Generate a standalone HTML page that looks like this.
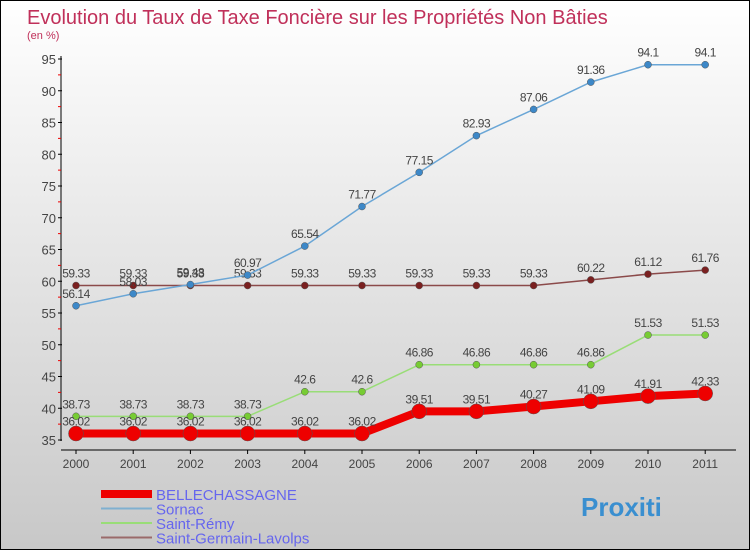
<!DOCTYPE html>
<html><head><meta charset="utf-8"><style>
body{margin:0}
#c{width:748px;height:548px;border:1px solid #000;background:linear-gradient(#fff,#c8c8c8);position:relative;overflow:hidden;font-family:"Liberation Sans",sans-serif}
</style></head><body>
<div id="c">
<svg width="748" height="548" id="s">
<text x="26" y="23" font-size="20" fill="#c0305a">Evolution du Taux de Taxe Foncière sur les Propriétés Non Bâties</text>
<text x="26" y="38" font-size="11" fill="#c0305a">(en %)</text>
</svg>
</div>
<script>
const years=[2000,2001,2002,2003,2004,2005,2006,2007,2008,2009,2010,2011];
const belle=[36.02,36.02,36.02,36.02,36.02,36.02,39.51,39.51,40.27,41.09,41.91,42.33];
const sornac=[56.14,58.03,59.48,60.97,65.54,71.77,77.15,82.93,87.06,91.36,94.1,94.1];
const remy=[38.73,38.73,38.73,38.73,42.6,42.6,46.86,46.86,46.86,46.86,51.53,51.53];
const germain=[59.33,59.33,59.33,59.33,59.33,59.33,59.33,59.33,59.33,60.22,61.12,61.76];
const yTicks=[35,40,45,50,55,60,65,70,75,80,85,90,95];
const names=["BELLECHASSAGNE","Sornac","Saint-Rémy","Saint-Germain-Lavolps"];
const NS="http://www.w3.org/2000/svg",s=document.getElementById('s');
const X=i=>75+i*57.2, Y=v=>439-(v-35)*6.35;
function mk(t,a,p){const e=document.createElementNS(NS,t);for(const k in a)e.setAttribute(k,a[k]);(p||s).appendChild(e);return e;}
let ax=mk('line',{x1:60,y1:55,x2:60,y2:440,stroke:'#000'});


let xa=mk('line',{x1:60,y1:449,x2:735,y2:449,stroke:'#000'});


yTicks.forEach((v,i)=>{
 mk('line',{x1:57,y1:Y(v),x2:61,y2:Y(v),stroke:'#000'});
 if(i<yTicks.length-1) mk('line',{x1:57,y1:Y(v+2.5),x2:60,y2:Y(v+2.5),stroke:'#e00'});
 const t=mk('text',{x:55,y:Y(v)+5,'font-size':13,'text-anchor':'end',fill:'#444'});t.textContent=v;
 
 
});
years.forEach((y,i)=>{
 mk('line',{x1:X(i),y1:449,x2:X(i),y2:453,stroke:'#000'});
 const t=mk('text',{x:X(i),y:467,'font-size':12,'text-anchor':'middle',fill:'#444'});t.textContent=y;
 
 
});
function series(d,col,w,r,dot,name){
 const g=mk('g',{});
 
 
 mk('polyline',{points:d.map((v,i)=>X(i)+','+Y(v)).join(' '),fill:'none',stroke:col,'stroke-width':w},g);
 d.forEach((v,i)=>{
  const c=mk('circle',{cx:X(i),cy:Y(v),r:r,fill:dot,stroke:'#555','stroke-width':0.5},g);
  
  
  const t=mk('text',{x:X(i),y:Y(v)-8,'font-size':12,'text-anchor':'middle',fill:'#444','letter-spacing':'-0.5'},g);t.textContent=v;
 });
}
series(germain,'#8b4a4a',1.5,3.5,'#7a2020','series-saint-germain');
series(remy,'#99dd77',1.5,3.5,'#77cc33','series-saint-remy');
series(sornac,'#6aa6d6',1.5,3.5,'#3d88c8','series-sornac');
series(belle,'#ee0000',8,7.5,'#ee0000','series-bellechassagne');
const lc=['#ee0000','#7fb0d0','#99dd77','#9a6a6a'],lw=[8,2,2,2];
names.forEach((n,i)=>{
 const y=493+i*14.5;
 const l=mk('line',{x1:100,y1:y,x2:151,y2:y,stroke:lc[i],'stroke-width':lw[i]});
 
 
 const t=mk('text',{x:155,y:y+6,'font-size':15,fill:'#6666ee'});t.textContent=n;
 
 
});
const p=mk('text',{x:580,y:515,'font-size':26,'font-weight':'bold',fill:'#3a8fd0'});p.textContent='Proxiti';


</script>
</body></html>
